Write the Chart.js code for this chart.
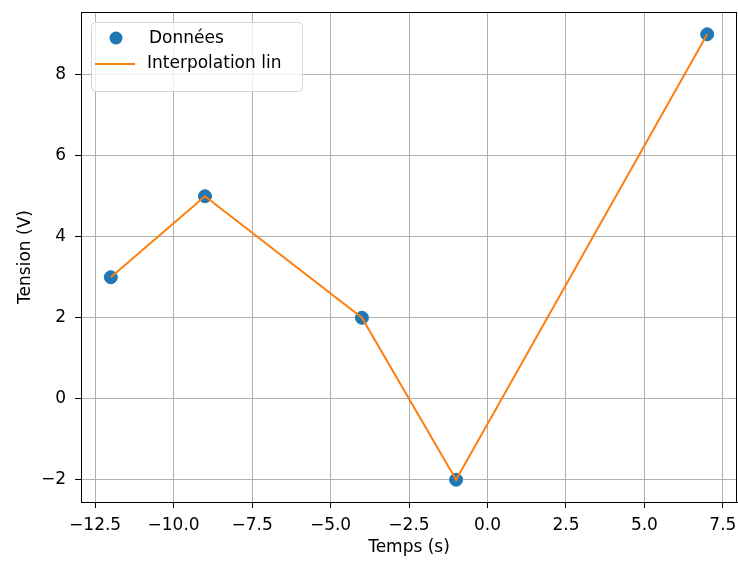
<!DOCTYPE html>
<html>
<head>
<meta charset="utf-8">
<script src="https://cdn.jsdelivr.net/npm/chart.js@4/dist/chart.umd.min.js"></script>
<style>
  html, body { margin: 0; padding: 0; background: #fff; }
  #wrap { width: 738px; height: 561px; }
</style>
</head>
<body>
<div id="wrap"><canvas id="tensionChart" width="738" height="561"></canvas></div>
<script>
// data
const timeValues = [-12, -9, -4, -1, 7];
const tensionValues = [3, 5, 2, -2, 9];
const xTicks = [-12.5, -10, -7.5, -5, -2.5, 0, 2.5, 5, 7.5];
const yTicks = [-2, 0, 2, 4, 6, 8];
const seriesLabels = ["Données", "Interpolation lin"];

const blue = "#1f77b4";
const orange = "#ff7f0e";
const fontFamily = "'DejaVu Sans', sans-serif";
const fontSize = 17;

const points = timeValues.map((t, i) => ({ x: t, y: tensionValues[i] }));
const minus = v => String(v).replace("-", "\u2212");

// top/right spines, matplotlib style
const framePlugin = {
    id: "frame",
    afterDatasetsDraw(chart) {
        const { ctx, chartArea: a } = chart;
        ctx.save();
        ctx.strokeStyle = "#000";
        ctx.lineWidth = 1;
        ctx.strokeRect(a.left + 0.5, a.top + 0.5, a.right - a.left - 1, a.bottom - a.top);
        ctx.restore();
    }
};

// legend box in the upper left corner of the axes
const legendPlugin = {
    id: "boxLegend",
    afterDraw(chart) {
        const { ctx, chartArea: a } = chart;
        const x = a.left + 10, y = a.top + 10, w = 211, h = 69;
        ctx.save();
        ctx.fillStyle = "rgba(255,255,255,0.8)";
        ctx.strokeStyle = "#d6d6d6";
        ctx.lineWidth = 1;
        ctx.beginPath();
        ctx.roundRect(x + 0.5, y + 0.5, w, h, 4);
        ctx.fill();
        ctx.stroke();

        ctx.fillStyle = blue;
        ctx.beginPath();
        ctx.arc(x + 25, y + 16, 6.5, 0, Math.PI * 2);
        ctx.fill();

        ctx.strokeStyle = orange;
        ctx.lineWidth = 2;
        ctx.beginPath();
        ctx.moveTo(x + 4, y + 42);
        ctx.lineTo(x + 44, y + 42);
        ctx.stroke();

        ctx.fillStyle = "#000";
        ctx.font = fontSize + "px " + fontFamily;
        ctx.textBaseline = "middle";
        ctx.fillText(seriesLabels[0], x + 58, y + 17);
        ctx.fillText(seriesLabels[1], x + 56, y + 42);
        ctx.restore();
    }
};

const ctx = document.getElementById("tensionChart").getContext("2d");

window.currentChart = new Chart(ctx, {
    type: "scatter",
    data: {
        datasets: [{
            label: seriesLabels[0],
            data: points,
            showLine: false,
            backgroundColor: blue,
            borderColor: blue,
            pointRadius: 6.5,
            pointHoverRadius: 6.5,
            order: 2
        }, {
            label: seriesLabels[1],
            data: points,
            showLine: true,
            fill: false,
            borderColor: orange,
            borderWidth: 2,
            pointRadius: 0,
            tension: 0,
            order: 1
        }]
    },
    plugins: [framePlugin, legendPlugin],
    options: {
        responsive: false,
        animation: false,
        events: [],
        layout: { autoPadding: false, padding: { top: 12, right: 1, left: 0, bottom: 0 } },
        plugins: {
            legend: { display: false },
            tooltip: { enabled: false }
        },
        scales: {
            x: {
                type: "linear",
                min: -12.95,
                max: 7.95,
                afterBuildTicks: scale => { scale.ticks = xTicks.map(v => ({ value: v })); },
                afterFit: scale => {
                    scale.height = 59;
                    scale.paddingLeft = 0;
                    scale.paddingRight = 0;
                },
                grid: { color: "#b0b0b0", lineWidth: 1, tickColor: "#000", tickLength: 6 },
                border: { color: "#000", width: 1 },
                ticks: {
                    color: "#000",
                    font: { family: fontFamily, size: fontSize },
                    padding: 7,
                    maxRotation: 0,
                    autoSkip: false,
                    callback: v => minus(v.toFixed(1))
                },
                title: {
                    display: true,
                    text: "Temps (s)",
                    color: "#000",
                    font: { family: fontFamily, size: fontSize },
                    padding: { top: 0, bottom: 3 }
                }
            },
            y: {
                type: "linear",
                min: -2.55,
                max: 9.55,
                afterBuildTicks: scale => { scale.ticks = yTicks.map(v => ({ value: v })); },
                afterFit: scale => {
                    scale.width = 81;
                    scale.paddingTop = 0;
                    scale.paddingBottom = 0;
                },
                grid: { color: "#b0b0b0", lineWidth: 1, tickColor: "#000", tickLength: 6 },
                border: { color: "#000", width: 1 },
                ticks: {
                    color: "#000",
                    font: { family: fontFamily, size: fontSize },
                    padding: 9,
                    autoSkip: false,
                    callback: v => minus(v)
                },
                title: {
                    display: true,
                    text: "Tension (V)",
                    color: "#000",
                    font: { family: fontFamily, size: fontSize },
                    padding: { top: 15, bottom: 0 }
                }
            }
        }
    }
});
</script>
</body>
</html>
